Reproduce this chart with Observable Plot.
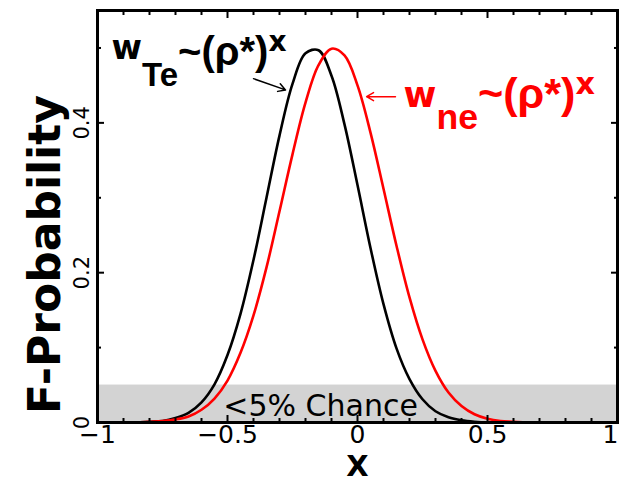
<!DOCTYPE html>
<html><head><meta charset="utf-8">
<script src="https://cdn.jsdelivr.net/npm/d3@7"></script>
<script src="https://cdn.jsdelivr.net/npm/@observablehq/plot@0.6"></script>
<style>body{margin:0;background:#fff}</style>
</head><body><div id="chart"></div>
<script>
// sampling grid of X
const xGrid = [-1.00,-0.95,-0.90,-0.85,-0.80,-0.75,-0.70,-0.65,-0.60,-0.55,-0.50,-0.45,-0.40,-0.35,-0.30,-0.25,-0.20,-0.15,-0.10,-0.05,
  0.00,0.05,0.10,0.15,0.20,0.25,0.30,0.35,0.40,0.45,0.50,0.55,0.60,0.65,0.70,0.75,0.80,0.85,0.90,0.95,1.00];
// F-probability for w_Te ~ (rho*)^x (black)
const probTe = [0,0,0,0,0.001,0.002,0.006,0.013,0.027,0.051,0.090,0.145,0.217,0.300,0.383,0.452,0.493,0.497,0.463,0.398,
  0.317,0.233,0.158,0.099,0.058,0.031,0.015,0.007,0.003,0.001,0,0,0,0,0,0,0,0,0,0,0];
// F-probability for w_ne ~ (rho*)^x (red)
const probNe = [0,0,0,0,0.001,0.002,0.004,0.008,0.017,0.032,0.056,0.093,0.143,0.207,0.282,0.358,0.427,0.477,0.499,0.490,
  0.450,0.387,0.312,0.236,0.167,0.111,0.069,0.040,0.022,0.011,0.005,0.002,0.001,0,0,0,0,0,0,0,0];

const xDomain = [-1, 1];
const yDomain = [0, 0.55];
const xMajorTicks = [-1, -0.5, 0, 0.5, 1];
const xMinorTicks = [-0.9,-0.8,-0.7,-0.6,-0.4,-0.3,-0.2,-0.1,0.1,0.2,0.3,0.4,0.6,0.7,0.8,0.9];
const xTickLabels = ["−1", "−0.5", "0", "0.5", "1"];
const yMajorTicks = [0, 0.2, 0.4];
const yMinorTicks = [0.1, 0.3, 0.5];
const yTickLabels = ["0", "0.2", "0.4"];
const chanceLevel = [0.05];
const chanceText = ["<5% Chance"];
const chanceTextPos = [{x: -0.142, y: 0.009}];
const xTitle = ["X"];
const yTitle = ["F-Probability"];

// annotation labels: w_{sub} ~ (ρ*)^x
const labels = [
  {sub: "Te", color: "#000000", x: -0.946, y: 0.485},
  {sub: "ne", color: "#ff0000", x: 0.177, y: 0.421}
];
const arrows = [
  {x1: -0.400, y1: 0.459, x2: -0.277, y2: 0.444, color: "#000000"},
  {x1: 0.146, y1: 0.435, x2: 0.035, y2: 0.435, color: "#ff0000"}
];

// layout of the annotation glyphs (styling, not data)
const labelScale = {Te: 1.0, ne: 1.08};
const labelSubDy = {Te: 27, ne: 22};

const seriesTe = xGrid.map((x, i) => ({x, y: probTe[i]}));
const seriesNe = xGrid.map((x, i) => ({x, y: probNe[i]}));
const fullLabel = d => "w" + d.sub + "~(ρ*)" + "x";
const xLabel = d => xTickLabels[xMajorTicks.indexOf(d)];

const svg = Plot.plot({
  width: 619,
  height: 480,
  marginLeft: 97,
  marginRight: 2,
  marginTop: 10,
  marginBottom: 58,
  style: {fontFamily: "'DejaVu Sans', sans-serif", background: "#fff"},
  x: {domain: xDomain},
  y: {domain: yDomain},
  marks: [
    Plot.rect(chanceLevel, {x1: () => xDomain[0], x2: () => xDomain[1], y1: () => 0, y2: d => d, fill: "#d3d3d3"}),
    Plot.text(chanceText, {x: (d, i) => chanceTextPos[i].x, y: (d, i) => chanceTextPos[i].y, text: d => d,
      fontSize: 30, lineAnchor: "bottom", fill: "#000"}),
    Plot.line(seriesTe, {x: "x", y: "y", stroke: "#000", strokeWidth: 2.6, curve: "catmull-rom"}),
    Plot.line(seriesNe, {x: "x", y: "y", stroke: "#ff0000", strokeWidth: 2.6, curve: "catmull-rom"}),
    Plot.arrow(arrows, {x1: "x1", y1: "y1", x2: "x2", y2: "y2", stroke: d => d.color, strokeWidth: 1.5, headLength: 8}),
    Plot.text(labels, {x: "x", y: "y", text: fullLabel, fill: d => d.color, textAnchor: "start",
      lineAnchor: "bottom", fontSize: 32, fontWeight: "bold"}),
    Plot.frame({strokeWidth: 3, stroke: "#000"}),
    // inward ticks
    Plot.axisX(xMajorTicks, {anchor: "bottom", text: null, tickSize: 7, dy: -7, strokeWidth: 2, label: null}),
    Plot.axisX(xMinorTicks, {anchor: "bottom", text: null, tickSize: 4, dy: -4, strokeWidth: 2, label: null}),
    Plot.axisX(xMajorTicks, {anchor: "top", text: null, tickSize: 7, dy: 7, strokeWidth: 2, label: null}),
    Plot.axisX(xMinorTicks, {anchor: "top", text: null, tickSize: 4, dy: 4, strokeWidth: 2, label: null}),
    Plot.axisY(yMajorTicks, {anchor: "left", text: null, tickSize: 7, dx: 7, strokeWidth: 2, label: null}),
    Plot.axisY(yMinorTicks, {anchor: "left", text: null, tickSize: 4, dx: 4, strokeWidth: 2, label: null}),
    Plot.axisY(yMajorTicks, {anchor: "right", text: null, tickSize: 7, dx: -7, strokeWidth: 2, label: null}),
    Plot.axisY(yMinorTicks, {anchor: "right", text: null, tickSize: 4, dx: -4, strokeWidth: 2, label: null}),
    // tick labels
    Plot.text(xMajorTicks, {x: d => d, filter: d => d !== xDomain[1], frameAnchor: "bottom", text: xLabel,
      lineAnchor: "top", dy: 3, fontSize: 25, fill: "#000"}),
    Plot.text(xMajorTicks, {x: d => d, filter: d => d === xDomain[1], frameAnchor: "bottom", text: xLabel,
      lineAnchor: "top", dy: 3, dx: -7, fontSize: 25, fill: "#000"}),
    Plot.text(yMajorTicks, {y: d => d, frameAnchor: "left", text: (d, i) => yTickLabels[i], rotate: -90,
      textAnchor: "middle", lineAnchor: "bottom", dx: -9, fontSize: 21, fill: "#000"}),
    // titles
    Plot.text(xTitle, {frameAnchor: "bottom", text: d => d, textAnchor: "middle", lineAnchor: "bottom", dy: 53,
      fontSize: 29, fontWeight: "bold"}),
    Plot.text(yTitle, {frameAnchor: "left", text: d => d, rotate: -90, textAnchor: "middle", lineAnchor: "bottom",
      dx: -38, dy: 38, fontSize: 44, fontWeight: "bold"})
  ]
});

// turn the annotation strings into w_sub ~(ρ*)^x with sub/superscripts
const texts = Array.from(svg.querySelectorAll("text"));
labels.forEach(lab => {
  const full = fullLabel(lab);
  const k = labelScale[lab.sub];
  texts.filter(t => t.textContent === full).forEach(t => {
    t.textContent = "";
    const parts = [
      {s: "w", dy: 0, size: 33, font: "'DejaVu Sans'"},
      {s: lab.sub, dy: labelSubDy[lab.sub], size: 33, font: "'Liberation Sans'"},
      {s: "~(ρ*)", dy: -21, size: 40, font: "'Liberation Sans'"},
      {s: "x", dy: -14, size: 28, font: "'DejaVu Sans'"}
    ];
    parts.forEach(p => {
      const ts = document.createElementNS("http://www.w3.org/2000/svg", "tspan");
      ts.textContent = p.s;
      if (p.dy) ts.setAttribute("dy", p.dy);
      ts.setAttribute("font-size", (p.size * k).toFixed(1));
      ts.setAttribute("font-family", p.font);
      t.appendChild(ts);
    });
  });
});

document.getElementById("chart").appendChild(svg);
</script>
</body></html>
